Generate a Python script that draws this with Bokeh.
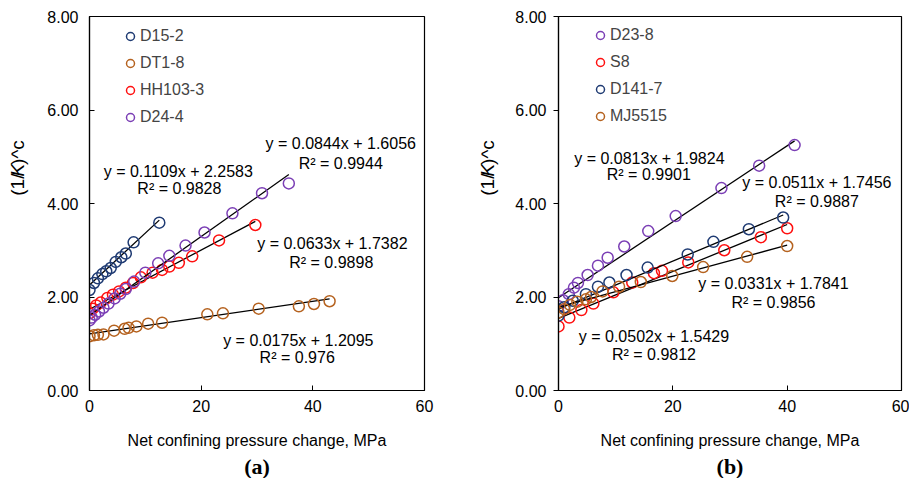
import math
from bokeh.plotting import figure
from bokeh.layouts import row
from bokeh.models import Range1d, FixedTicker, Legend, LegendItem, Label, Title
from bokeh.core.properties import value
from bokeh.embed import file_html
from bokeh.resources import INLINE

# ---------------- data ----------------
x_ticks = [0, 20, 40, 60]
y_ticks = [0, 2, 4, 6, 8]
y_tick_labels = ["0.00", "2.00", "4.00", "6.00", "8.00"]
x_title = "Net confining pressure change, MPa"
y_title_parts = ["(1/", "K", ")^c"]          # K is italic

# Panel (a)
a_names = ["D15-2", "DT1-8", "HH103-3", "D24-4"]
a_colors = ["#1F3B73", "#B5621F", "#FF1010", "#7B3FB5"]
d15_2_x = [0, 0.8, 1.5, 2.3, 3.0, 3.8, 4.7, 5.7, 6.5, 7.9, 12.5]
d15_2_y = [2.15, 2.30, 2.40, 2.49, 2.55, 2.62, 2.75, 2.85, 2.93, 3.17, 3.59]
dt1_8_x = [0, 0.8, 1.5, 2.5, 4.4, 6.3, 7.0, 8.4, 10.5, 13.0, 21.1, 23.9, 30.3, 37.5, 40.2, 43.0]
dt1_8_y = [1.16, 1.18, 1.19, 1.20, 1.28, 1.32, 1.34, 1.37, 1.43, 1.45, 1.63, 1.65, 1.75, 1.80, 1.85, 1.91]
hh103_3_x = [0, 0.6, 1.2, 2.0, 3.2, 4.2, 5.3, 6.5, 7.8, 9.2, 11.3, 13.0, 14.3, 16.0, 18.4, 23.2, 29.7]
hh103_3_y = [1.65, 1.75, 1.82, 1.88, 1.98, 2.05, 2.12, 2.20, 2.30, 2.42, 2.52, 2.58, 2.65, 2.73, 2.87, 3.21, 3.54]
d24_4_x = [0, 0.4, 1.0, 1.7, 2.5, 3.4, 4.5, 5.5, 6.5, 8.0, 10.0, 12.3, 14.3, 17.2, 20.6, 25.6, 30.9, 35.7]
d24_4_y = [1.50, 1.56, 1.62, 1.69, 1.77, 1.86, 1.97, 2.07, 2.17, 2.33, 2.52, 2.72, 2.88, 3.10, 3.38, 3.79, 4.22, 4.43]
a_x = [d15_2_x, dt1_8_x, hh103_3_x, d24_4_x]
a_y = [d15_2_y, dt1_8_y, hh103_3_y, d24_4_y]
a_slope = [0.1109, 0.0175, 0.0633, 0.0844]
a_icpt = [2.2583, 1.2095, 1.7382, 1.6056]
a_r2 = ["0.9828", "0.976", "0.9898", "0.9944"]

# Panel (b)
b_names = ["D23-8", "S8", "D141-7", "MJ5515"]
b_colors = ["#7B3FB5", "#FF1010", "#1F3B73", "#B5621F"]
d23_8_x = [0, 0.8, 1.8, 2.7, 3.4, 5.1, 6.9, 8.6, 11.5, 15.7, 20.5, 28.5, 35.1, 41.3]
d23_8_y = [1.80, 1.93, 2.06, 2.20, 2.30, 2.47, 2.67, 2.84, 3.08, 3.41, 3.73, 4.33, 4.81, 5.25]
s8_x = [0, 1.9, 4.0, 6.1, 9.6, 12.9, 16.7, 18.1, 22.7, 29.0, 35.4, 40.0]
s8_y = [1.37, 1.56, 1.72, 1.86, 2.10, 2.31, 2.51, 2.56, 2.74, 3.00, 3.28, 3.47]
d141_7_x = [0, 1.0, 2.5, 4.8, 6.9, 8.9, 11.9, 15.6, 22.6, 27.1, 33.3, 39.3]
d141_7_y = [1.60, 1.78, 1.92, 2.06, 2.22, 2.31, 2.47, 2.63, 2.91, 3.18, 3.45, 3.70]
mj5515_x = [0, 1.0, 2.0, 3.3, 4.8, 5.7, 7.7, 10.6, 14.4, 19.9, 25.3, 33.0, 40.0]
mj5515_y = [1.67, 1.74, 1.83, 1.90, 1.95, 2.00, 2.12, 2.22, 2.32, 2.45, 2.64, 2.86, 3.09]
b_x = [d23_8_x, s8_x, d141_7_x, mj5515_x]
b_y = [d23_8_y, s8_y, d141_7_y, mj5515_y]
b_slope = [0.0813, 0.0502, 0.0511, 0.0331]
b_icpt = [1.9824, 1.5429, 1.7456, 1.7841]
b_r2 = ["0.9901", "0.9812", "0.9887", "0.9856"]

FONT = "Liberation Sans"
H = 478


def ylabel_fig(width, cx, cy):
    f = figure(width=width, height=H, x_range=Range1d(0, width), y_range=Range1d(0, H),
               output_backend="svg", toolbar_location=None, title=None, min_border=0,
               x_axis_location=None, y_axis_location=None)
    f.xgrid.visible = False
    f.ygrid.visible = False
    f.outline_line_color = None
    f.border_fill_color = "white"
    fs = 19
    widths = [1.167 * fs + 2.5, 0.667 * fs + 2.0, 1.302 * fs]
    styles = ["normal", "italic", "normal"]
    y0 = cy - sum(widths) / 2
    off = 0
    for txt, w, st in zip(y_title_parts, widths, styles):
        f.text(x=[cx], y=[y0 + off], text=[txt], angle=math.pi / 2,
               text_align="left", text_baseline="middle",
               text_font=value(FONT), text_font_size=value(f"{fs}px"),
               text_font_style=st, text_color="black")
        off += w
    return f


def make_panel(width, b_left, b_right, b_top, ytick_in, names, colors, xs, ys,
               slopes, icpts, r2s, ann_pos, legend_xy, tag):
    p = figure(width=width, height=H, x_range=Range1d(0, 60), y_range=Range1d(0, 8),
               output_backend="svg", toolbar_location=None, title=None,
               min_border_left=b_left, min_border_right=b_right,
               min_border_top=b_top, min_border_bottom=H - 390)
    p.xgrid.visible = False
    p.ygrid.visible = False
    p.outline_line_color = "black"
    p.outline_line_width = 1.2
    p.background_fill_color = "white"
    p.border_fill_color = "white"

    p.xaxis.ticker = FixedTicker(ticks=x_ticks)
    p.yaxis.ticker = FixedTicker(ticks=y_ticks)
    p.yaxis.major_label_overrides = {t: s for t, s in zip(y_ticks, y_tick_labels)}
    for ax in (p.xaxis[0], p.yaxis[0]):
        ax.axis_line_color = "black"
        ax.axis_line_width = 1.2
        ax.major_tick_line_color = "black"
        ax.minor_tick_line_color = None
        ax.major_label_text_font = FONT
        ax.major_label_text_font_size = "16px"
        ax.major_label_text_color = "black"
    p.xaxis.major_tick_in = 5
    p.xaxis.major_tick_out = 0
    p.xaxis.major_label_standoff = 9
    if ytick_in:
        p.yaxis.major_tick_in = 5
        p.yaxis.major_tick_out = 0
        p.yaxis.major_label_standoff = 11
    else:
        p.yaxis.major_tick_in = 0
        p.yaxis.major_tick_out = 5
        p.yaxis.major_label_standoff = 7
    p.xaxis.axis_label = x_title
    p.xaxis.axis_label_text_font = FONT
    p.xaxis.axis_label_text_font_size = "16px"
    p.xaxis.axis_label_text_font_style = "normal"
    p.xaxis.axis_label_text_color = "black"
    p.xaxis.axis_label_standoff = 17

    items = []
    for name, c, x, y, m, b in zip(names, colors, xs, ys, slopes, icpts):
        x0, x1 = min(x), max(x)
        p.line([x0, x1], [m * x0 + b, m * x1 + b], line_color="black", line_width=1.3)
        r = p.scatter(x, y, size=11, marker="circle", fill_color=None,
                      line_color=c, line_width=1.5)
        items.append(LegendItem(label=name, renderers=[r]))

    legend = Legend(items=items, location=legend_xy, border_line_color=None,
                    background_fill_alpha=0, padding=0, margin=0, spacing=7,
                    label_height=20, glyph_height=20, glyph_width=20,
                    label_standoff=0, label_text_font=FONT,
                    label_text_font_size="16px", label_text_baseline="middle")
    p.add_layout(legend)

    for (ex, ey, rx, ry), m, b, r2 in zip(ann_pos, slopes, icpts, r2s):
        p.add_layout(Label(x=ex, y=ey, text=f"y = {m}x + {b}", text_align="center",
                           text_baseline="middle", text_font=FONT,
                           text_font_size="16px", text_color="black"))
        p.add_layout(Label(x=rx, y=ry, text=f"R² = {r2}", text_align="center",
                           text_baseline="middle", text_font=FONT,
                           text_font_size="16px", text_color="black"))

    p.add_layout(Title(text=tag, align="center", text_font="Liberation Serif",
                       text_font_size="22px", text_font_style="bold",
                       text_color="black", standoff=0), "below")
    return p


a_ann = [(15.9, 4.69, 16.1, 4.33), (37.4, 1.07, 37.2, 0.71),
         (43.5, 3.14, 43.3, 2.74), (45.0, 5.28, 45.0, 4.85)]
b_ann = [(15.9, 4.97, 15.8, 4.61), (16.7, 1.15, 16.7, 0.77),
         (45.2, 4.44, 45.2, 4.05), (37.6, 2.28, 37.6, 1.88)]

ya = ylabel_fig(30, 17, H - 197)
pa = make_panel(448, 59, 54, 16, True, a_names, a_colors, a_x, a_y, a_slope, a_icpt,
                a_r2, a_ann, (31, 263), "(a)")
yb = ylabel_fig(25, 9, H - 197)
pb = make_panel(406, 55, 8, 15, False, b_names, b_colors, b_x, b_y, b_slope, b_icpt,
                b_r2, b_ann, (32, 264), "(b)")

layout = row(ya, pa, yb, pb)
open("out.html", "w").write(file_html(layout, INLINE))
